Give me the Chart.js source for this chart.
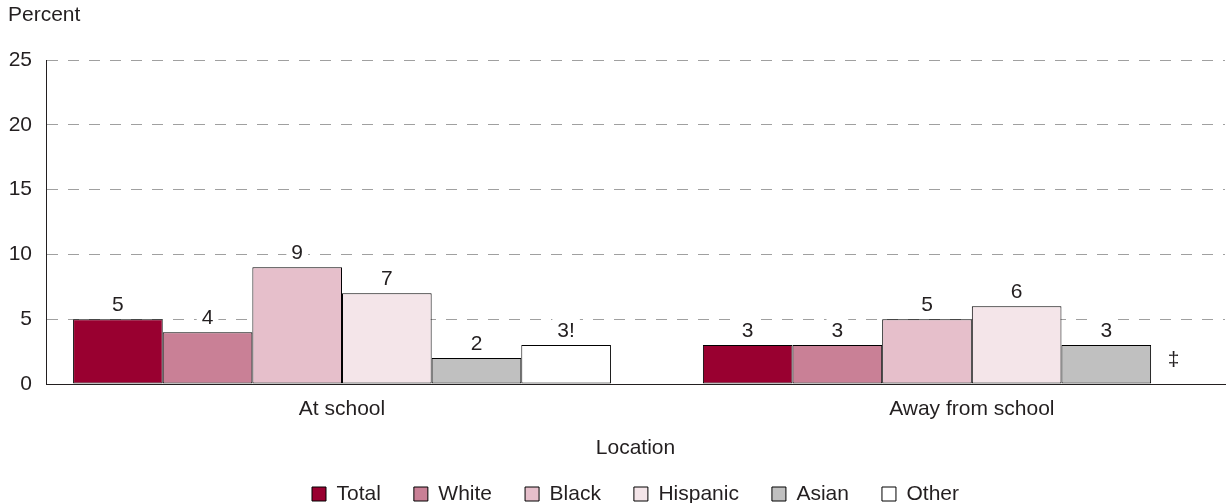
<!DOCTYPE html>
<html lang="en">
<head>
  <meta charset="UTF-8" />
  <title>Percent by location</title>
  <script src="https://cdn.jsdelivr.net/npm/chart.js"></script>
  <style>
    html, body { margin: 0; padding: 0; background: #fff; }
    .chart-box { width: 1227px; height: 503px; }
  </style>
</head>
<body>

<div class="chart-box"><canvas id="locationChart"></canvas></div>

<script>
  const categories = ['At school', 'Away from school'];
  const total    = [5, 3];
  const white    = [4, 3];
  const black    = [9, 5];
  const hispanic = [7, 6];
  const asian    = [2, 3];
  const other    = [3, null];
  const otherNotes = ['3!', '\u2021'];
  const yTicks = [0, 5, 10, 15, 20, 25];

  const FONT = '"Liberation Sans", Arial, Helvetica, sans-serif';
  const SIZE = 21;
  const INK = '#231f20';

  function series(label, data, color) {
    return {
      label: label,
      data: data,
      backgroundColor: color,
      borderColor: '#000',
      borderWidth: 1,
      borderSkipped: false
    };
  }

  // value on top of each bar, with a white patch so the grid dashes break around it
  const valueLabels = {
    id: 'valueLabels',
    afterDatasetsDraw(chart) {
      const ctx = chart.ctx;
      const yScale = chart.scales.y;
      ctx.save();
      ctx.font = SIZE + 'px ' + FONT;
      ctx.textAlign = 'center';
      chart.data.datasets.forEach((ds, di) => {
        chart.getDatasetMeta(di).data.forEach((bar, i) => {
          const v = ds.data[i];
          const text = ds.notes ? ds.notes[i] : String(v);
          ctx.fillStyle = INK;
          if (v == null) {
            // no estimate: only the footnote mark
            ctx.textBaseline = 'middle';
            ctx.fillText(text, bar.x - bar.width / 4, yScale.getPixelForValue(0) - 24);
            return;
          }
          const w = ctx.measureText(text).width + 10;
          ctx.fillStyle = '#fff';
          ctx.fillRect(bar.x - w / 2, bar.y - 27, w, 22);
          ctx.fillStyle = INK;
          ctx.textBaseline = 'alphabetic';
          ctx.fillText(text, bar.x, bar.y - 8);
        });
      });
      ctx.restore();
    }
  };

  const otherSet = series('Other', other, '#ffffff');
  otherSet.notes = otherNotes;

  new Chart(document.getElementById('locationChart'), {
    type: 'bar',
    data: {
      labels: categories.map((c, i) => i),
      datasets: [
        series('Total', total, '#990030'),
        series('White', white, '#c98096'),
        series('Black', black, '#e6bfcb'),
        series('Hispanic', hispanic, '#f4e5e9'),
        series('Asian', asian, '#c0c0c0'),
        otherSet
      ]
    },
    plugins: [valueLabels],
    options: {
      responsive: true,
      maintainAspectRatio: false,
      animation: false,
      categoryPercentage: 0.854,
      barPercentage: 1,
      layout: { padding: { left: 8, right: 2, top: 0, bottom: -11.5 } },
      plugins: {
        tooltip: { enabled: false },
        title: {
          display: true,
          text: 'Percent',
          align: 'start',
          color: INK,
          font: { family: FONT, size: SIZE, weight: 'normal' },
          padding: { top: 3, bottom: 31.8 }
        },
        legend: {
          position: 'bottom',
          fullSize: false,
          labels: {
            color: INK,
            font: { family: FONT, size: SIZE },
            boxWidth: 14,
            boxHeight: 14,
            padding: 33
          }
        }
      },
      scales: {
        x: {
          type: 'linear',
          min: -0.47,
          max: 1.402,
          offset: false,
          afterFit: (scale) => { scale.height = 66.5; },
          grid: { display: false, drawTicks: false },
          border: { display: true, color: INK, width: 1 },
          ticks: {
            stepSize: 1,
            includeBounds: false,
            maxRotation: 0,
            padding: 13,
            color: INK,
            font: { family: FONT, size: SIZE },
            callback: (v) => categories[v] ?? ''
          },
          title: {
            display: true,
            text: 'Location',
            color: INK,
            font: { family: FONT, size: SIZE },
            padding: { top: 0, bottom: -10.5 }
          }
        },
        y: {
          min: 0,
          max: 25,
          afterBuildTicks: (scale) => { scale.ticks = yTicks.map(v => ({ value: v })); },
          afterFit: (scale) => { scale.width = 38; },
          grid: {
            drawTicks: false,
            color: (c) => c.tick && c.tick.value === 0 ? 'rgba(0,0,0,0)' : '#a0a0a0',
            lineWidth: 1
          },
          border: { display: true, color: INK, width: 1, dash: [11, 10] },
          ticks: {
            padding: 14,
            color: INK,
            font: { family: FONT, size: SIZE }
          }
        }
      }
    }
  });
</script>

</body>
</html>
